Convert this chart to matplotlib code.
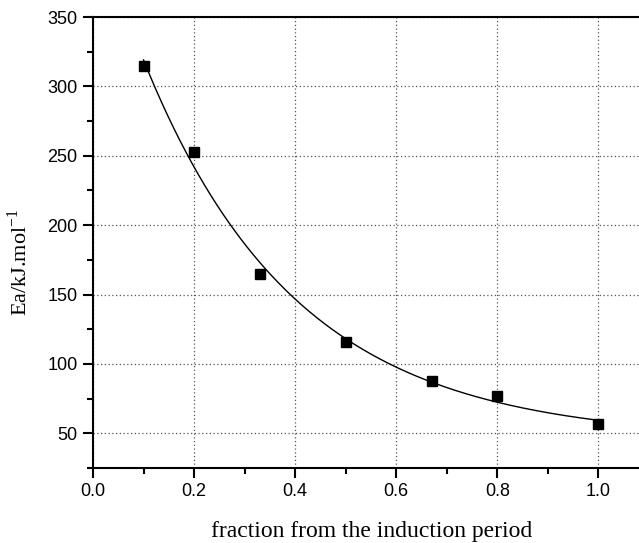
import numpy as np
import matplotlib
matplotlib.use("Agg")
import matplotlib.pyplot as plt
from matplotlib.ticker import MultipleLocator

fraction = [0.1, 0.2, 0.33, 0.5, 0.67, 0.8, 1.0]
ea = [315, 253, 165, 116, 88, 77, 57]

x_label = "fraction from the induction period"
y_label = "Ea/kJ.mol$^{\\mathregular{-1}}$"

# exponential-decay fit y = y0 + A*exp(-x/t) to the data points
xd = np.array(fraction, dtype=float)
yd = np.array(ea, dtype=float)
best = None
for t in np.linspace(0.05, 2.0, 2000):
    M = np.column_stack([np.ones_like(xd), np.exp(-xd / t)])
    coef, *_ = np.linalg.lstsq(M, yd, rcond=None)
    r = np.sum((M @ coef - yd) ** 2)
    if best is None or r < best[0]:
        best = (r, t, coef)
_, tfit, (y0, A) = best
xf = np.linspace(min(fraction), max(fraction), 300)
yf = y0 + A * np.exp(-xf / tfit)

fig = plt.figure(figsize=(6.39, 5.43), dpi=100)
ax = fig.add_axes([93/639, 1-468/543, 1-93/639 + 0.002, (468-17)/543])

ax.plot(xf, yf, color="black", lw=1.0, zorder=3)
ax.plot(fraction, ea, "s", color="black", ms=7, zorder=4)

ax.set_xlim(0, 1.083)
ax.set_ylim(25, 350)
ax.xaxis.set_minor_locator(MultipleLocator(0.1))
ax.yaxis.set_minor_locator(MultipleLocator(25))
ax.set_xticks(np.arange(0, 1.01, 0.2))
ax.set_yticks(np.arange(50, 351, 50))
ax.set_xticklabels(["0.0", "0.2", "0.4", "0.6", "0.8", "1.0"])

ax.grid(True, which="major", linestyle=(0, (1, 2)), color="#555555", lw=0.9)
ax.set_axisbelow(True)

for s in ax.spines.values():
    s.set_linewidth(1.5)

ax.tick_params(which="major", direction="out", length=7, width=1.5,
               labelsize=13, pad=4)
ax.tick_params(which="minor", direction="out", length=4, width=1.5)
for lab in ax.get_xticklabels() + ax.get_yticklabels():
    lab.set_fontfamily("Liberation Sans")

ax.set_xlabel(x_label, fontfamily="Liberation Serif", fontsize=17)
ax.set_ylabel(y_label, fontfamily="Liberation Serif", fontsize=16)
ax.xaxis.set_label_coords(0.509, -0.14)
ax.xaxis.label.set_va("center")
ax.yaxis.set_label_coords(-0.134, 0.457)
ax.yaxis.label.set_va("center")

fig.savefig("out.png", dpi=100)
